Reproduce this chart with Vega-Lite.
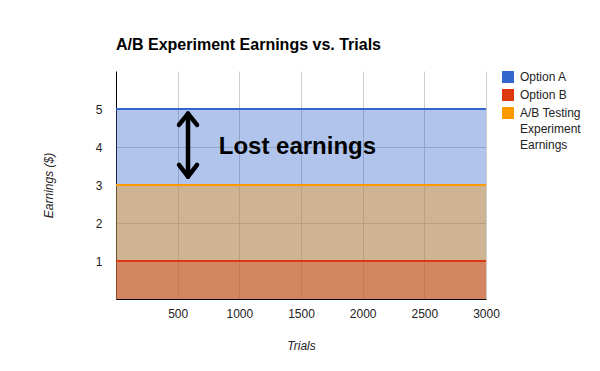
{
  "$schema": "https://vega.github.io/schema/vega-lite/v6.json",
  "width": 370,
  "height": 228,
  "autosize": {"type": "none"},
  "padding": {"left": 116, "top": 71, "right": 114, "bottom": 72},
  "background": "white",
  "title": {"text": "A/B Experiment Earnings vs. Trials", "anchor": "start", "frame": "group", "font": "Liberation Sans", "fontSize": 16, "fontWeight": "bold", "color": "#000000", "offset": 18},
  "config": {
    "view": {"stroke": null},
    "axis": {"labelFont": "Liberation Sans", "labelFontSize": 12, "labelColor": "#222222", "titleFont": "Liberation Sans", "titleFontSize": 12, "titleFontStyle": "italic", "titleFontWeight": "normal", "titleColor": "#222222", "gridColor": "#cccccc", "domainColor": "#000000", "ticks": false, "tickSize": 0, "labelFlush": false},
    "legend": {"labelFont": "Liberation Sans", "labelFontSize": 12, "labelColor": "#222222"}
  },
  "data": {"values": [
    {"series": "Option A", "trials": 0, "earnings": 5},
    {"series": "Option A", "trials": 3000, "earnings": 5},
    {"series": "Option B", "trials": 0, "earnings": 1},
    {"series": "Option B", "trials": 3000, "earnings": 1},
    {"series": "A/B Testing Experiment Earnings", "trials": 0, "earnings": 3},
    {"series": "A/B Testing Experiment Earnings", "trials": 3000, "earnings": 3}
  ]},
  "layer": [
    {
      "transform": [{"filter": "datum.series == 'Option A'"}],
      "mark": {"type": "area", "opacity": 0.38},
      "encoding": {
        "x": {"field": "trials", "type": "quantitative", "scale": {"domain": [0, 3000], "nice": false}, "axis": {"values": [500, 1000, 1500, 2000, 2500, 3000], "format": "d", "title": "Trials", "labelPadding": 9, "titlePadding": 21, "labelFlush": false}},
        "y": {"field": "earnings", "type": "quantitative", "stack": null, "scale": {"domain": [0, 6], "nice": false}, "axis": {"values": [1, 2, 3, 4, 5], "title": "Earnings ($)", "labelPadding": 14, "titlePadding": 40}},
        "color": {"field": "series", "type": "nominal", "scale": {"domain": ["Option A", "Option B", "A/B Testing Experiment Earnings"], "range": ["#3366cc", "#dc3912", "#ff9900"]},
          "legend": {"title": null, "orient": "right", "offset": 12, "padding": 0, "symbolType": "square", "symbolSize": 144, "symbolStrokeWidth": 0, "symbolOpacity": 1, "labelOffset": 6, "rowPadding": 6, "labelExpr": "datum.label == 'A/B Testing Experiment Earnings' ? ['A/B Testing', 'Experiment', 'Earnings'] : datum.label",
            "encode": {"labels": {"update": {"lineHeight": {"value": 16}}}}}}
      }
    },
    {
      "transform": [{"filter": "datum.series == 'A/B Testing Experiment Earnings'"}],
      "mark": {"type": "area", "opacity": 0.38},
      "encoding": {
        "x": {"field": "trials", "type": "quantitative"},
        "y": {"field": "earnings", "type": "quantitative", "stack": null},
        "color": {"field": "series", "type": "nominal"}
      }
    },
    {
      "transform": [{"filter": "datum.series == 'Option B'"}],
      "mark": {"type": "area", "opacity": 0.38},
      "encoding": {
        "x": {"field": "trials", "type": "quantitative"},
        "y": {"field": "earnings", "type": "quantitative", "stack": null},
        "color": {"field": "series", "type": "nominal"}
      }
    },
    {
      "mark": {"type": "line", "strokeWidth": 2},
      "encoding": {
        "x": {"field": "trials", "type": "quantitative"},
        "y": {"field": "earnings", "type": "quantitative"},
        "color": {"field": "series", "type": "nominal"}
      }
    },
    {
      "data": {"values": [
        {"part": "shaft", "o": 1, "trials": 584, "earnings": 4.88},
        {"part": "shaft", "o": 2, "trials": 584, "earnings": 3.22},
        {"part": "top", "o": 1, "trials": 511, "earnings": 4.58},
        {"part": "top", "o": 2, "trials": 584, "earnings": 4.88},
        {"part": "top", "o": 3, "trials": 657, "earnings": 4.58},
        {"part": "bottom", "o": 1, "trials": 511, "earnings": 3.53},
        {"part": "bottom", "o": 2, "trials": 584, "earnings": 3.22},
        {"part": "bottom", "o": 3, "trials": 657, "earnings": 3.53}
      ]},
      "mark": {"type": "line", "color": "#000000", "strokeWidth": 4.5, "strokeCap": "round", "strokeJoin": "round"},
      "encoding": {
        "x": {"field": "trials", "type": "quantitative"},
        "y": {"field": "earnings", "type": "quantitative"},
        "detail": {"field": "part", "type": "nominal"},
        "order": {"field": "o", "type": "quantitative"}
      }
    },
    {
      "data": {"values": [{"label": "Lost earnings", "trials": 833, "earnings": 3.82}]},
      "mark": {"type": "text", "align": "left", "baseline": "alphabetic", "font": "Liberation Sans", "fontSize": 24, "fontWeight": "bold", "color": "#000000"},
      "encoding": {
        "x": {"field": "trials", "type": "quantitative"},
        "y": {"field": "earnings", "type": "quantitative"},
        "text": {"field": "label", "type": "nominal"}
      }
    }
  ]
}
